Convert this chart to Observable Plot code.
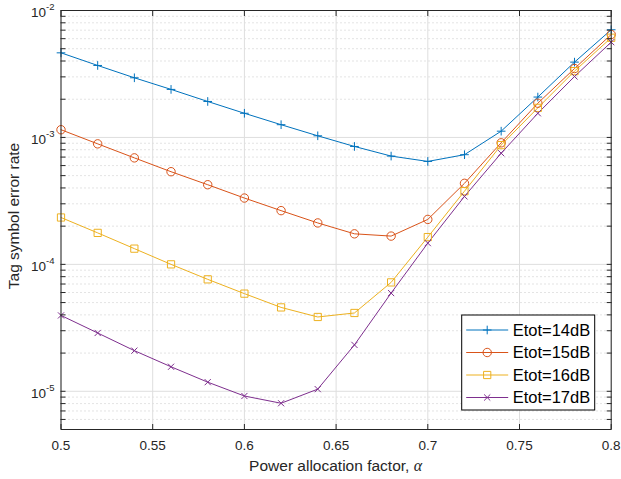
<!DOCTYPE html>
<html><head><meta charset="utf-8">
<script src="https://cdn.jsdelivr.net/npm/d3@7"></script>
<script src="https://cdn.jsdelivr.net/npm/@observablehq/plot@0.6"></script>
<style>body{margin:0;background:#fff} #chart{width:621px;height:479px}</style>
</head><body><div id="chart"></div>
<script>
const alpha = [0.5,0.52,0.54,0.56,0.58,0.6,0.62,0.64,0.66,0.68,0.7,0.72,0.74,0.76,0.78,0.8];
const seriesNames = ["Etot=14dB","Etot=15dB","Etot=16dB","Etot=17dB"];
const ser14 = [4.64e-3,3.69e-3,2.95e-3,2.39e-3,1.92e-3,1.55e-3,1.26e-3,1.03e-3,8.49e-4,7.13e-4,6.47e-4,7.31e-4,1.12e-3,2.08e-3,3.92e-3,7.05e-3];
const ser15 = [1.15e-3,8.9e-4,6.9e-4,5.37e-4,4.24e-4,3.33e-4,2.65e-4,2.12e-4,1.74e-4,1.67e-4,2.26e-4,4.35e-4,9.07e-4,1.86e-3,3.49e-3,6.47e-3];
const ser16 = [2.34e-4,1.77e-4,1.33e-4,1.0e-4,7.62e-5,5.88e-5,4.58e-5,3.85e-5,4.14e-5,7.21e-5,1.64e-4,3.77e-4,8.7e-4,1.71e-3,3.33e-3,6.1e-3];
const ser17 = [3.96e-5,2.88e-5,2.09e-5,1.56e-5,1.18e-5,9.18e-6,8.05e-6,1.04e-5,2.32e-5,5.94e-5,1.47e-4,3.43e-4,7.51e-4,1.55e-3,3.02e-3,5.63e-3];
const xTicks = [0.5,0.55,0.6,0.65,0.7,0.75,0.8];
const xTickLabels = ["0.5","0.55","0.6","0.65","0.7","0.75","0.8"];
const yMajor = [1e-5,1e-4,1e-3,1e-2];
const yExponents = [-5,-4,-3,-2];
const xLabel = "Power allocation factor, ";
const xLabelSymbol = "α";
const yLabel = "Tag symbol error rate";

const colors = ["#0072BD","#D95319","#EDB120","#7E2F8E"];
const symbols = ["plus","circle","square2","times"];
const symbolR = [2.9,4.2,4.6,2.9];
const d3Symbols = {plus:d3.symbolPlus, circle:d3.symbolCircle, square2:d3.symbolSquare2, times:d3.symbolTimes};

const values = [ser14, ser15, ser16, ser17];
const rows = seriesNames.flatMap((s,i)=>alpha.map((a,j)=>({alpha:a, ser:values[i][j], series:s})));
const yMinor = [];
for (let e=-6; e<=-3; e++) for (let m=2; m<=9; m++) { const v = m*Math.pow(10,e); if (v>=5e-6 && v<1e-2) yMinor.push(v); }
const yAllTicks = yMajor.concat(yMinor);

const W = 621, H = 479;
const M = {left:60.5, right:10.3, top:10, bottom:50};
const ink = "#262626";
const sans = "'Liberation Sans', Arial, Helvetica, sans-serif";

const plot = Plot.plot({
  width: W, height: H,
  marginLeft: M.left, marginRight: M.right, marginTop: M.top, marginBottom: M.bottom,
  style: {fontFamily:sans, fontSize:"13.5px", color:ink, background:"white", overflow:"visible"},
  x: {type:"linear", domain:[0.5,0.8]},
  y: {type:"log", domain:[5e-6,1e-2]},
  color: {domain: seriesNames, range: colors},
  marks: [
    Plot.ruleY(yMinor, {stroke:"#a8a8a8", strokeOpacity:0.8, strokeDasharray:"1,3", strokeWidth:0.8}),
    Plot.gridX(xTicks, {stroke:"#dedede", strokeOpacity:1}),
    Plot.gridY(yMajor, {stroke:"#dedede", strokeOpacity:1}),
    Plot.line(rows, {x:"alpha", y:"ser", stroke:"series", strokeWidth:1}),
    ...seriesNames.map((s,i)=>Plot.dot(rows.filter(d=>d.series===s), {x:"alpha", y:"ser", stroke:colors[i], symbol:symbols[i], r:symbolR[i], fill:"none", strokeWidth:1})),
    Plot.frame({stroke:ink, strokeWidth:1}),
    Plot.axisX(xTicks, {anchor:"bottom", tickSize:5, dy:-5, fill:"none", label:null, stroke:ink}),
    Plot.axisX(xTicks, {anchor:"top", tickSize:5, dy:5, fill:"none", label:null, stroke:ink}),
    Plot.axisY(yAllTicks, {anchor:"left", tickSize:5, dx:5, fill:"none", label:null, stroke:ink}),
    Plot.axisY(yAllTicks, {anchor:"right", tickSize:5, dx:-5, fill:"none", label:null, stroke:ink}),
    Plot.axisX(xTicks, {anchor:"bottom", tickSize:0, tickPadding:11, tickFormat:(d)=>xTickLabels[xTicks.indexOf(d)], label:null, fill:ink}),
    Plot.axisY(yMajor, {anchor:"left", tickSize:0, tickPadding:6.5, dy:2, tickFormat:(d)=>"10^"+yExponents[yMajor.indexOf(d)], label:null, fill:ink})
  ]
});
document.getElementById("chart").appendChild(plot);

const svg = d3.select(plot);
// superscript exponents on y tick labels
svg.selectAll("text").each(function(){
  const t = this.textContent;
  if (/^10\^-?\d+$/.test(t)) {
    const exp = t.split("^")[1];
    const el = d3.select(this);
    el.text("");
    el.append("tspan").text("10");
    el.append("tspan").attr("dy", "-7").attr("font-size", "9.5px").text(exp);
  }
});

const plotLeft = M.left, plotRight = W - M.right, plotTop = M.top, plotBottom = H - M.bottom;
// x label
svg.append("text")
  .attr("x", (plotLeft+plotRight)/2).attr("y", plotBottom+42)
  .attr("text-anchor","middle").attr("fill", ink)
  .attr("font-family",sans).attr("font-size","15.5px")
  .call(t=>{ t.append("tspan").text(xLabel); t.append("tspan").attr("font-family","'Liberation Serif', 'Times New Roman', serif").attr("font-style","italic").attr("font-size","16px").text(xLabelSymbol); });
// y label
svg.append("text")
  .attr("transform", `translate(18.5,${(plotTop+plotBottom)/2 - 3.5}) rotate(-90)`)
  .attr("text-anchor","middle").attr("fill", ink)
  .attr("font-family",sans).attr("font-size","15.5px")
  .text(yLabel);

// legend
const lgW = 133, lgH = 95;
const lgX = plotRight - 16 - lgW, lgY = plotBottom - 19 - lgH;
const lg = svg.append("g").attr("transform", `translate(${lgX},${lgY})`);
lg.append("rect").attr("x",0).attr("y",0).attr("width",lgW).attr("height",lgH).attr("fill","white").attr("stroke","#000").attr("stroke-width",1);
seriesNames.forEach((s,i)=>{
  const cy = 15 + i*22.5;
  lg.append("line").attr("x1",4.5).attr("x2",46.5).attr("y1",cy).attr("y2",cy).attr("stroke",colors[i]).attr("stroke-width",1);
  lg.append("path").attr("transform",`translate(25.5,${cy})`)
    .attr("d", d3.symbol(d3Symbols[symbols[i]], Math.PI*symbolR[i]*symbolR[i])())
    .attr("fill","none").attr("stroke",colors[i]).attr("stroke-width",1);
  lg.append("text").attr("x",51).attr("y",cy+5.8).attr("fill","#000").attr("text-anchor","start")
    .attr("font-family",sans).attr("font-size","16.5px").text(s);
});
</script>
</body></html>
